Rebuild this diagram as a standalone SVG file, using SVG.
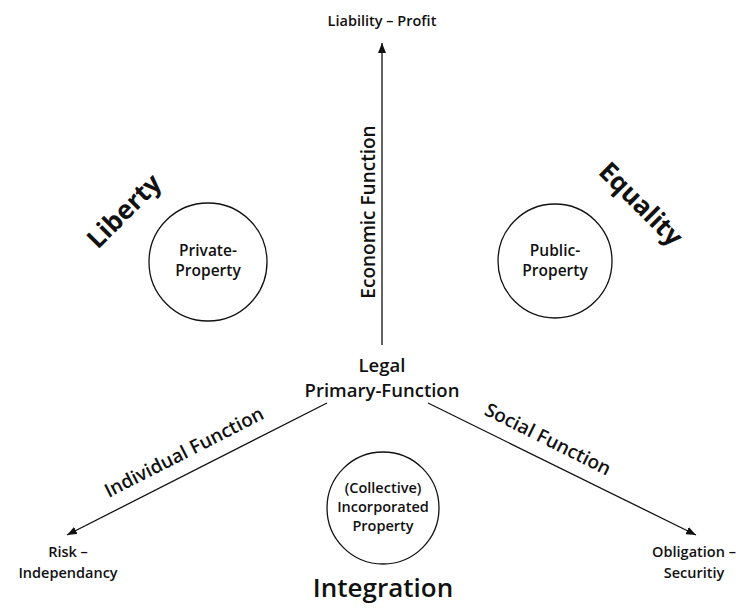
<svg xmlns="http://www.w3.org/2000/svg" width="736" height="609" viewBox="0 0 736 609">
<style>
text{font-family:"Open Sans","Noto Sans","Liberation Sans",sans-serif;fill:#111;text-anchor:middle}
.s{font-size:14.5px;font-weight:600}
.p{font-size:15.5px;font-weight:600}
.m{font-size:19px;font-weight:600}
.c{font-size:18.5px;font-weight:600}
.b{font-size:26px;font-weight:700}
.i{font-size:26px;font-weight:600}
circle{fill:none;stroke:#111;stroke-width:1.3}
line{stroke:#111;stroke-width:1.3}
</style>
<defs>
<marker id="ah" viewBox="0 0 10 8" refX="10" refY="4" markerWidth="10" markerHeight="8" markerUnits="userSpaceOnUse" orient="auto">
<path d="M0,0 L10,4 L0,8 Z" fill="#111"/>
</marker>
</defs>
<g id="connectors">
<line x1="382" y1="345" x2="382" y2="43" marker-end="url(#ah)"/>
<line x1="327" y1="403" x2="67" y2="535" marker-end="url(#ah)"/>
<line x1="428" y1="403" x2="696" y2="535" marker-end="url(#ah)"/>
<text class="m" transform="translate(375,212) rotate(-90)">Economic Function</text>
<text class="m" transform="translate(187,458) rotate(-27)">Individual Function</text>
<text class="m" transform="translate(545,445) rotate(26.5)">Social Function</text>
</g>
<g id="top"><text class="s" x="382" y="26">Liability – Profit</text></g>
<g id="liberty"><text class="b" transform="translate(124,211) rotate(-45)" dy="9">Liberty</text></g>
<g id="equality"><text class="b" transform="translate(641,204) rotate(45)" dy="9">Equality</text></g>
<g id="private"><circle cx="208" cy="262" r="59"/><text class="p" x="208" y="256">Private-</text><text class="p" x="208" y="276">Property</text></g>
<g id="public"><circle cx="555" cy="261" r="57"/><text class="p" x="555" y="256">Public-</text><text class="p" x="555" y="276">Property</text></g>
<g id="legal"><text class="c" x="382" y="372">Legal</text><text class="c" x="382" y="397">Primary-Function</text></g>
<g id="risk"><text class="s" x="68" y="557">Risk –</text><text class="s" x="68" y="578">Independancy</text></g>
<g id="obligation"><text class="s" x="694" y="557">Obligation –</text><text class="s" x="694" y="578">Securitiy</text></g>
<g id="collective"><circle cx="383" cy="508" r="56"/><text class="s" x="383" y="493">(Collective)</text><text class="s" x="383" y="512">Incorporated</text><text class="s" x="383" y="531">Property</text></g>
<g id="integration"><text class="i" x="383" y="597">Integration</text></g>
</svg>
